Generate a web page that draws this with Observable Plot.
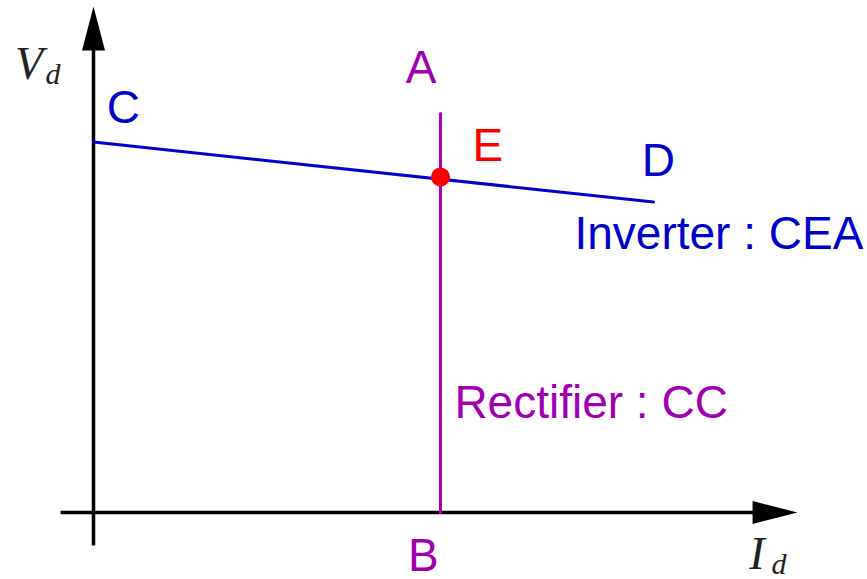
<!DOCTYPE html>
<html>
<head>
<meta charset="utf-8">
<script src="https://cdn.jsdelivr.net/npm/d3@7"></script>
<script src="https://cdn.jsdelivr.net/npm/@observablehq/plot@0.6"></script>
<style>
  html, body { margin: 0; padding: 0; background: #fff; }
  svg { display: block; overflow: visible; }
</style>
</head>
<body>
<div id="chart"></div>
<script>
// ---- data (abstract units: Id on x, Vd on y) ----
const xAxisLine = [{x: -4.75, y: 0}, {x: 98, y: 0}];
const yAxisLine = [{x: 0, y: -6.6}, {x: 0, y: 95}];
const xArrowTip = [{x: 101.45, y: 0}];
const yArrowTip = [{x: 0, y: 101.2}];
const inverterLine = [{x: 0, y: 74.1}, {x: 80.7, y: 62.1}];      // C -> D
const rectifierLine = [{x: 50, y: 0}, {x: 50, y: 79.8}];          // B -> A
const operatingPoint = [{x: 50, y: 67.1}];                        // E
const pointLabels = [
  {text: "A", x: 45.0, y: 86,    color: "#a000b0"},
  {text: "B", x: 45.3, y: -11.6, color: "#a000b0"},
  {text: "C", x: 1.9,  y: 78,    color: "#0000cc"},
  {text: "D", x: 79.0, y: 67.4,  color: "#0000cc"},
  {text: "E", x: 54.6, y: 70.4,  color: "#ff0000"}
];
const curveLabels = [
  {text: "Inverter : CEA",  x: 69.3, y: 52.8, color: "#0000cc"},
  {text: "Rectifier : CC",  x: 52.0, y: 19,   color: "#a000b0"}
];
const axisMain = [
  {text: "V", x: -11.3, y: 86.8},
  {text: "I", x: 94.5,  y: -11.2}
];
const axisSub = [
  {text: "d", x: -6.9, y: 85.8},
  {text: "d", x: 97.7, y: -12.2}
];

// filled arrow heads as custom symbols (tip at the data point)
const arrowUp = {draw(ctx) { ctx.moveTo(0, 0); ctx.lineTo(11.5, 44); ctx.lineTo(-11.5, 44); ctx.closePath(); }};
const arrowRight = {draw(ctx) { ctx.moveTo(0, 0); ctx.lineTo(-45, -11.5); ctx.lineTo(-45, 11.5); ctx.closePath(); }};

const sans = "'Liberation Sans', Arial, sans-serif";
const serif = "'Liberation Serif', 'DejaVu Serif', serif";

const chart = Plot.plot({
  width: 867,
  height: 579,
  margin: 0,
  style: {background: "#fff", overflow: "visible"},
  x: {domain: [0, 100], range: [93, 787], axis: null},
  y: {domain: [0, 100], range: [512, 12], axis: null},
  marks: [
    Plot.line(xAxisLine, {x: "x", y: "y", stroke: "black", strokeWidth: 3.5, strokeLinecap: "butt"}),
    Plot.line(yAxisLine, {x: "x", y: "y", stroke: "black", strokeWidth: 3.5, strokeLinecap: "butt"}),
    Plot.dot(xArrowTip, {x: "x", y: "y", symbol: arrowRight, fill: "black", stroke: "none"}),
    Plot.dot(yArrowTip, {x: "x", y: "y", symbol: arrowUp, fill: "black", stroke: "none"}),
    Plot.line(rectifierLine, {x: "x", y: "y", stroke: "#b000c0", strokeWidth: 3}),
    Plot.line(inverterLine, {x: "x", y: "y", stroke: "#0000d0", strokeWidth: 3}),
    Plot.dot(operatingPoint, {x: "x", y: "y", r: 9.5, fill: "#ff0000", stroke: "none"}),
    Plot.text(pointLabels, {x: "x", y: "y", text: "text", fill: d => d.color, textAnchor: "start",
      lineAnchor: "bottom", fontSize: 46, fontFamily: sans}),
    Plot.text(curveLabels, {x: "x", y: "y", text: "text", fill: d => d.color, textAnchor: "start",
      lineAnchor: "bottom", fontSize: 46, fontFamily: sans}),
    Plot.text(axisMain, {x: "x", y: "y", text: "text", fill: "#222", textAnchor: "start",
      lineAnchor: "bottom", fontSize: 46, fontStyle: "italic", fontFamily: serif}),
    Plot.text(axisSub, {x: "x", y: "y", text: "text", fill: "#222", textAnchor: "start",
      lineAnchor: "bottom", fontSize: 30, fontStyle: "italic", fontFamily: serif})
  ]
});
document.getElementById("chart").append(chart);
</script>
</body>
</html>
